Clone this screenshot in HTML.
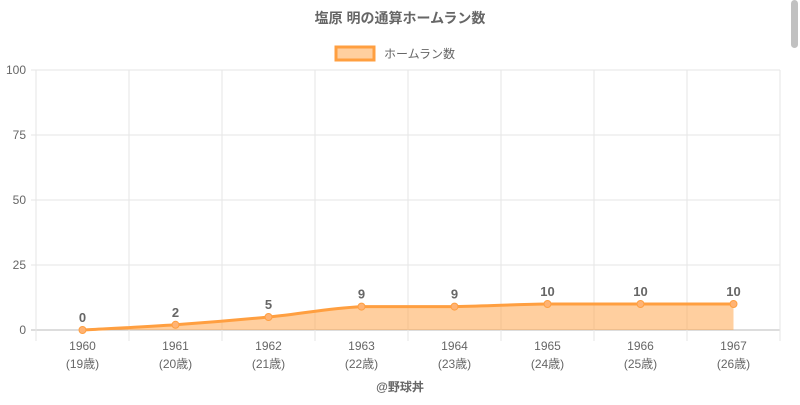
<!DOCTYPE html>
<html><head><meta charset="utf-8"><style>
body{margin:0;width:800px;height:400px;overflow:hidden;background:#fff;font-family:"Liberation Sans","Noto Sans CJK JP",sans-serif}
</style></head><body>
<svg id="c" width="800" height="400" style="font-family:'Liberation Sans','Noto Sans CJK JP',sans-serif">
<text x="400" y="23" text-anchor="middle" font-size="14" font-weight="bold" fill="#666">塩原 明の通算ホームラン数</text>
<g>
<rect x="336" y="47" width="38" height="13" fill="rgba(255,159,64,0.5)" stroke="#ff9f40" stroke-width="3"/>
<text x="384" y="58" font-size="12" fill="#666">ホームラン数</text>
</g>
<g id="grid"></g><g id="series"></g>
<text x="400" y="391" text-anchor="middle" font-size="12" font-weight="bold" fill="#666">@野球丼</text>
<rect x="791" y="0" width="7" height="48" rx="3.5" fill="#c1c1c1"/>
</svg>
<script>
const categories=["1960","1961","1962","1963","1964","1965","1966","1967"];
const ages=["(19歳)","(20歳)","(21歳)","(22歳)","(23歳)","(24歳)","(25歳)","(26歳)"];
const values=[0,2,5,9,9,10,10,10];
const yTicks=[0,25,50,75,100];
const NS="http://www.w3.org/2000/svg";
const L=36,R=780,T=70,B=330;
const step=(R-L)/categories.length;
const xs=i=>L+step*(i+0.5);
const ys=v=>B-(v/100)*(B-T);
function mk(t,a,p){const e=document.createElementNS(NS,t);for(const k in a)e.setAttribute(k,a[k]);p.appendChild(e);return e;}
const g=document.getElementById('grid'),s=document.getElementById('series');
yTicks.forEach(v=>{
 const ln=mk('line',{x1:L-5,x2:R,y1:ys(v),y2:ys(v),stroke:v===0?'#bbb':'#e6e6e6'},g);
 
 
 const t=mk('text',{x:L-10,y:ys(v)+4,'text-anchor':'end','font-size':12,fill:'#666'},g);t.textContent=v;
 
 
});
for(let i=0;i<=categories.length;i++){
 const ln=mk('line',{x1:L+step*i,x2:L+step*i,y1:T,y2:B+11,stroke:'#e6e6e6'},g);
 
 
}
categories.forEach((c,i)=>{
 const t=mk('text',{x:xs(i),y:B+20,'text-anchor':'middle','font-size':12,fill:'#666'},g);t.textContent=c;
 
 
 const a=mk('text',{x:xs(i),y:B+38,'text-anchor':'middle','font-size':12,fill:'#666'},g);a.textContent=ages[i];
 
 
});
const P=values.map((v,i)=>[xs(i),ys(v)]);
let d=`M${P[0][0]},${P[0][1]}`;
const tn=0.2;
for(let i=0;i<P.length-1;i++){
 const p0=P[Math.max(0,i-1)],p1=P[i],p2=P[i+1],p3=P[Math.min(P.length-1,i+2)];
 let c1y=p1[1]+(p2[1]-p0[1])*tn,c2y=p2[1]-(p3[1]-p1[1])*tn;
 const lo=Math.min(p1[1],p2[1]),hi=Math.max(p1[1],p2[1]);
 c1y=Math.min(hi,Math.max(lo,c1y));c2y=Math.min(hi,Math.max(lo,c2y));
 d+=` C${p1[0]+(p2[0]-p0[0])*tn},${c1y} ${p2[0]-(p3[0]-p1[0])*tn},${c2y} ${p2[0]},${p2[1]}`;
}
const area=mk('path',{d:d+` L${P[P.length-1][0]},${B} L${P[0][0]},${B} Z`,fill:'rgba(255,159,64,0.5)'},s);


const line=mk('path',{d:d,fill:'none',stroke:'#ff9f40','stroke-width':3},s);


P.forEach((p,i)=>{
 const c=mk('circle',{cx:p[0],cy:p[1],r:3.5,fill:'#ffb374',stroke:'#ff9f40','stroke-width':1},s);
 
 
 const t=mk('text',{x:p[0],y:p[1]-8,'text-anchor':'middle','font-size':13,'font-weight':'bold',fill:'#666'},s);t.textContent=values[i];
 
 
});
</script>
</body></html>
